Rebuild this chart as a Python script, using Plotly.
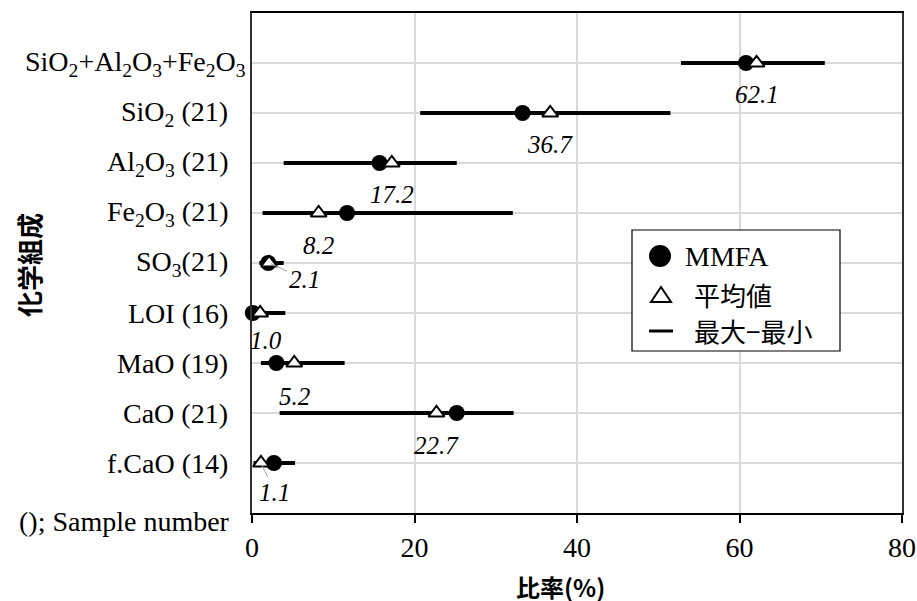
import plotly.graph_objects as go

# ---------------- data ----------------
categories = [
    "SiO<sub>2</sub>+Al<sub>2</sub>O<sub>3</sub>+Fe<sub>2</sub>O<sub>3</sub>",
    "SiO<sub>2</sub> (21)",
    "Al<sub>2</sub>O<sub>3</sub> (21)",
    "Fe<sub>2</sub>O<sub>3</sub> (21)",
    "SO<sub>3</sub>(21)",
    "LOI (16)",
    "MaO (19)",
    "CaO (21)",
    "f.CaO (14)",
]
footnote = "(); Sample number"
range_min = [52.8, 20.7, 3.9, 1.3, 0.9, 0.2, 1.1, 3.4, 0.2]
range_max = [70.5, 51.5, 25.2, 32.1, 3.9, 4.1, 11.4, 32.2, 5.3]
mmfa = [60.8, 33.3, 15.7, 11.7, 2.0, 0.1, 3.0, 25.2, 2.7]
mean = [62.1, 36.7, 17.2, 8.2, 2.1, 1.0, 5.2, 22.7, 1.1]
x_ticks = [0, 20, 40, 60, 80]
legend_labels = ["MMFA", "平均値", "最大−最小"]
x_title = "比率(%)"
y_title = "化学組成"

# ---------------- layout constants ----------------
W, H = 917, 601
L, R, T, B = 252, 902, 13, 513
SERIF = "Liberation Serif"
CJK = "Noto Sans CJK JP"

def px2x(px):
    return (px - L) / (R - L)

def py2y(py):
    return (B - py) / (B - T)

rows = list(range(len(categories)))

fig = go.Figure()

# min-max lines
lx, ly = [], []
for i in rows:
    lx += [range_min[i], range_max[i], None]
    ly += [i, i, None]
fig.add_trace(go.Scatter(x=lx, y=ly, mode="lines", line=dict(color="black", width=4),
                         cliponaxis=False, hoverinfo="skip", showlegend=False))
# MMFA circles
fig.add_trace(go.Scatter(x=mmfa, y=rows, mode="markers",
                         marker=dict(symbol="circle", size=16, color="black"),
                         cliponaxis=False, showlegend=False))
# mean triangles
fig.add_trace(go.Scatter(x=mean, y=rows, mode="markers",
                         marker=dict(symbol="triangle-up", size=14, color="white",
                                     line=dict(color="black", width=2)),
                         cliponaxis=False, showlegend=False))

annotations = []
# value labels (offsets in px: dx right, dy down)
label_offsets = [(0, 31), (0, 31), (0, 31), (0, 32), (35, 16), (6, 27), (0, 33), (0, 32), (14, 29)]
leader = [False, False, False, False, True, False, False, False, True]
for i in rows:
    dx, dy = label_offsets[i]
    txt = f"<i>{mean[i]:.1f}</i>"
    font = dict(family=SERIF, size=25, color="black")
    if leader[i]:
        annotations.append(dict(x=mean[i], y=i, xref="x", yref="y", text=txt, font=font,
                                showarrow=True, arrowhead=0, arrowwidth=1, arrowcolor="#a6a6a6",
                                ax=dx, ay=dy, standoff=2))
    else:
        annotations.append(dict(x=mean[i], y=i, xref="x", yref="y", text=txt, font=font,
                                showarrow=False, xshift=dx, yshift=-dy))

# y category labels
for i in rows:
    annotations.append(dict(x=0, y=i, xref="paper", yref="y", text=categories[i],
                            xanchor="right", yanchor="middle", showarrow=False,
                            xshift=-4 if i == 0 else -22,
                            font=dict(family=SERIF, size=28, color="black")))
annotations.append(dict(x=0, y=len(categories), xref="paper", yref="y", text=footnote,
                        xanchor="right", yanchor="middle", showarrow=False,
                        xshift=-20, yshift=-8,
                        font=dict(family=SERIF, size=28, color="black")))

# axis titles
annotations.append(dict(x=px2x(560), y=py2y(586), xref="paper", yref="paper", text=x_title,
                        showarrow=False, xanchor="center", yanchor="middle",
                        font=dict(family=CJK, size=24, color="black", weight="bold")))
annotations.append(dict(x=px2x(28), y=py2y(265), xref="paper", yref="paper", text=y_title,
                        showarrow=False, xanchor="center", yanchor="middle", textangle=-90,
                        font=dict(family=CJK, size=26, color="black", weight="bold")))

# legend box
shapes = [
    dict(type="rect", xref="paper", yref="paper", x0=px2x(632), x1=px2x(840),
         y0=py2y(351), y1=py2y(230), line=dict(color="black", width=1.2), fillcolor="white",
         layer="above"),
    dict(type="circle", xref="paper", yref="paper", xsizemode="pixel", ysizemode="pixel",
         xanchor=px2x(660), yanchor=py2y(256), x0=-11, x1=11, y0=-11, y1=11,
         fillcolor="black", line=dict(color="black", width=0), layer="above"),
    dict(type="path", xref="paper", yref="paper", xsizemode="pixel", ysizemode="pixel",
         xanchor=px2x(661), yanchor=py2y(295),
         path="M -10,-7 L 10,-7 L 0,8 Z", fillcolor="white",
         line=dict(color="black", width=2), layer="above"),
    dict(type="line", xref="paper", yref="paper", x0=px2x(649), x1=px2x(673),
         y0=py2y(331), y1=py2y(331), line=dict(color="black", width=3), layer="above"),
]
annotations.append(dict(x=px2x(683), y=py2y(256), xref="paper", yref="paper", text=legend_labels[0],
                        showarrow=False, xanchor="left", yanchor="middle",
                        font=dict(family=SERIF, size=28, color="black")))
annotations.append(dict(x=px2x(692), y=py2y(294), xref="paper", yref="paper", text=legend_labels[1],
                        showarrow=False, xanchor="left", yanchor="middle",
                        font=dict(family=CJK, size=26, color="black")))
annotations.append(dict(x=px2x(692), y=py2y(330), xref="paper", yref="paper", text=legend_labels[2],
                        showarrow=False, xanchor="left", yanchor="middle",
                        font=dict(family=CJK, size=26, color="black")))

fig.update_layout(
    width=W, height=H,
    margin=dict(l=L, r=W - R, t=T, b=H - B, pad=0, autoexpand=False),
    paper_bgcolor="white", plot_bgcolor="white",
    showlegend=False,
    annotations=annotations,
    shapes=shapes,
    xaxis=dict(range=[0, 80], tickvals=x_ticks, ticktext=[str(v) for v in x_ticks],
               automargin=False,
               showgrid=True, gridcolor="#d9d9d9", gridwidth=1.5,
               showline=True, linecolor="black", linewidth=1.5, mirror=True,
               ticks="outside", ticklen=8, tickcolor="black", tickwidth=1.5,
               ticklabelstandoff=1,
               tickfont=dict(family=SERIF, size=28, color="black"), zeroline=False),
    yaxis=dict(range=[len(categories), -1], tickvals=rows + [len(categories)],
               automargin=False,
               showticklabels=False, ticks="",
               showgrid=True, gridcolor="#d9d9d9", gridwidth=1.5,
               showline=True, linecolor="#333333", linewidth=1.5, mirror=True,
               zeroline=False),
)

fig.write_html("out.html",
               config={"displayModeBar": False},
               post_script="document.body.style.margin='0';document.body.style.overflow='hidden';")
